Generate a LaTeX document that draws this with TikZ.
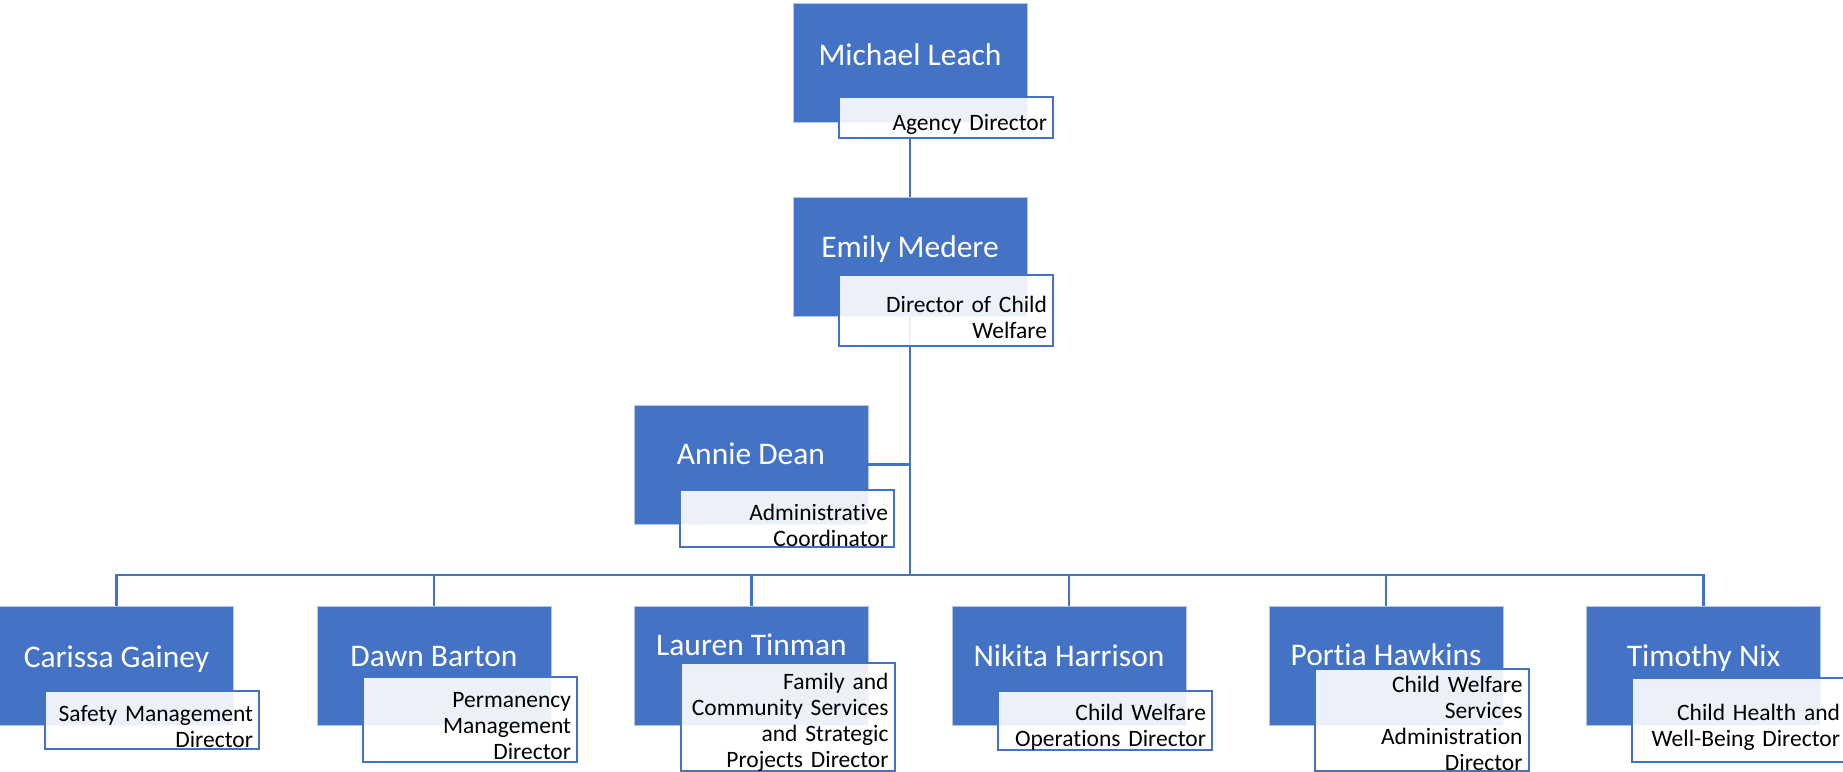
\documentclass[tikz,border=0pt]{standalone}
\usepackage{fontspec}
\setmainfont{Carlito}[Ligatures={NoCommon,NoContextual}]
\definecolor{bluec}{HTML}{4472C4}
\definecolor{blueedge}{HTML}{B4C7E7}
\tikzset{
  bluebox/.style={rectangle, fill=bluec, draw=blueedge, line width=0.8pt, minimum width=234pt, minimum height=119pt, inner sep=0pt},
  nametext/.style={anchor=base, text=white, inner sep=0pt, font=\fontsize{31.5}{36}\selectfont},
  titlebox/.style={rectangle, fill=white, fill opacity=0.9, draw=bluec, draw opacity=1, line width=2pt, minimum width=214pt, inner sep=0pt},
  titletext/.style={text width=202pt, align=right, inner sep=0pt, yshift=-7pt, font=\fontsize{23.5}{26}\selectfont},
  link/.style={draw=bluec, line width=2.2pt}
}
\begin{document}
\begin{tikzpicture}[x=1pt,y=-1pt]
\useasboundingbox (0,0) rectangle (1843,771);
% blue boxes
\node[bluebox] (ml) at (910,63) {};
\node[bluebox] (em) at (910,256.5) {};
\node[bluebox] (ad) at (751,464.5) {};
\node[bluebox] (cg) at (116.5,665.5) {};
\node[bluebox] (db) at (434,665.5) {};
\node[bluebox] (lt) at (751.5,665.5) {};
\node[bluebox] (nh) at (1069,665.5) {};
\node[bluebox] (ph) at (1386,665.5) {};
\node[bluebox] (tn) at (1703.5,665.5) {};
% connectors
\coordinate (j) at (910,575);
\draw[link] (ml.south) -- (em.north);
\draw[link] (em.south) -- (j);
\draw[link] (ad.east) -- (ad.east -| j);
\draw[link] (cg.north) |- (j);
\draw[link] (db.north) |- (j);
\draw[link] (lt.north) |- (j);
\draw[link] (nh.north) |- (j);
\draw[link] (ph.north) |- (j);
\draw[link] (tn.north) |- (j);
% names
\node[nametext] (mln) at (910,65) {Michael Leach};
\node[nametext] (emn) at (910,257) {Emily Medere};
\node[nametext] (adn) at (751,464) {Annie Dean};
\node[nametext] (cgn) at (116.5,667) {Carissa Gainey};
\node[nametext] (dbn) at (434,666) {Dawn Barton};
\node[nametext] (ltn) at (751.5,655) {Lauren Tinman};
\node[nametext] (nhn) at (1069,666) {Nikita Harrison};
\node[nametext] (phn) at (1386,665) {Portia Hawkins};
\node[nametext] (tnn) at (1703.5,666) {Timothy Nix};
% title boxes
\node[titlebox, minimum height=41pt] (mlt) at (946,117.5) {};
\node[titlebox, minimum height=71pt] (emt) at (946,310.5) {};
\node[titlebox, minimum height=57pt] (adt) at (787,518.5) {};
\node[titlebox, minimum height=58pt] (cgt) at (152,720) {};
\node[titlebox, minimum height=85pt] (dbt) at (470,719.5) {};
\node[titlebox, minimum height=108pt] (ltt) at (787.5,717) {};
\node[titlebox, minimum height=59pt] (nht) at (1105,720.5) {};
\node[titlebox, minimum height=102pt] (pht) at (1421.5,720) {};
\node[titlebox, minimum height=84pt] (tnt) at (1739,720) {};
% title texts
\node[titletext] (mltx) at (mlt.center) {Agency Director};
\node[titletext] (emtx) at (emt.center) {Director of Child\\Welfare};
\node[titletext] (adtx) at (adt.center) {Administrative\\Coordinator};
\node[titletext] (cgtx) at (cgt.center) {Safety Management\\Director};
\node[titletext] (dbtx) at (dbt.center) {Permanency\\Management\\Director};
\node[titletext, yshift=2pt] (lttx) at (ltt.center) {Family and\\Community Services\\and Strategic\\Projects Director};
\node[titletext, yshift=4pt] (phtx) at (pht.center) {Child Welfare\\Services\\Administration\\Director};
\node[titletext] (nhtx) at (nht.center) {Child Welfare\\Operations Director};
\node[titletext] (tntx) at (tnt.center) {Child Health and\\Well-Being Director};
\end{tikzpicture}
\end{document}
